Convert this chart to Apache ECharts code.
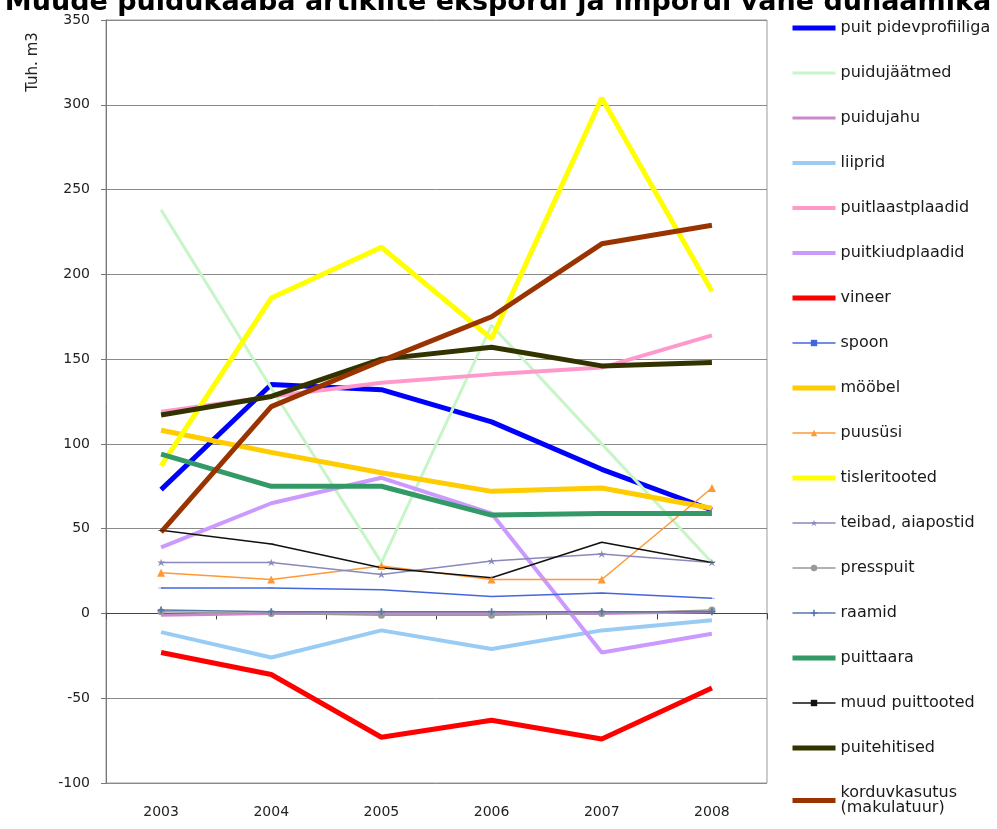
<!DOCTYPE html>
<html>
<head>
<meta charset="utf-8">
<script src="https://cdn.jsdelivr.net/npm/echarts@6/dist/echarts.min.js"></script>
<style>
html,body{margin:0;padding:0;background:#fff;}
#chart{width:997px;height:829px;}
</style>
</head>
<body>
<div id="chart"></div>
<script>
const titleText = 'Muude puidukaaba artiklite ekspordi ja impordi vahe dünaamika';
const unitLabel = 'Tuh. m3';
const years = ['2003', '2004', '2005', '2006', '2007', '2008'];

const puitPidevprofiiliga = [73, 135, 132, 113, 85, 61];
const puidujaatmed = [238, 133, 30, 170, 100, 30];
const puidujahu = [-1, 0, 0, 0, 0, 1];
const liiprid = [-11, -26, -10, -21, -10, -4];
const puitlaastplaadid = [119, 128, 136, 141, 145, 164];
const puitkiudplaadid = [39, 65, 80, 59, -23, -12];
const vineer = [-23, -36, -73, -63, -74, -44];
const spoon = [15, 15, 14, 10, 12, 9];
const moobel = [108, 95, 83, 72, 74, 62];
const puususi = [24, 20, 28, 20, 20, 74];
const tisleritooted = [87, 186, 216, 162, 304, 190];
const teibad = [30, 30, 23, 31, 35, 30];
const presspuit = [1, 0, -1, -1, 0, 2];
const raamid = [2, 1, 1, 1, 1, 1];
const puittaara = [94, 75, 75, 58, 59, 59];
const muudPuittooted = [49, 41, 27, 21, 42, 30];
const puitehitised = [117, 128, 150, 157, 146, 148];
const korduvkasutus = [48, 122, 149, 175, 218, 229];

const yMin = -100, yMax = 350, yStep = 50;

const FONT = '"DejaVu Sans", sans-serif';
const DASH = 'path://M0,0H8V2H0Z';
const PLUS = 'path://M3,0H5V3H8V5H5V8H3V5H0V3H3Z';
const STAR = 'path://M4,0L5,3L8,2.5L5.5,4.5L7,7.5L4,5.5L1,7.5L2.5,4.5L0,2.5L3,3Z';

const seriesDefs = [
  {name: 'puit pidevprofiiliga', data: puitPidevprofiiliga, color: '#0000ff', width: 5},
  {name: 'puidujäätmed', data: puidujaatmed, color: '#c8f5c8', width: 3},
  {name: 'puidujahu', data: puidujahu, color: '#cc88cc', width: 3},
  {name: 'liiprid', data: liiprid, color: '#99ccf5', width: 4},
  {name: 'puitlaastplaadid', data: puitlaastplaadid, color: '#ff99cc', width: 4},
  {name: 'puitkiudplaadid', data: puitkiudplaadid, color: '#cc99ff', width: 4},
  {name: 'vineer', data: vineer, color: '#ff0000', width: 5},
  {name: 'spoon', data: spoon, color: '#4466dd', width: 1.5, symbol: DASH, size: [6, 2]},
  {name: 'mööbel', data: moobel, color: '#ffcc00', width: 5},
  {name: 'puusüsi', data: puususi, color: '#ff9933', width: 1.5, symbol: 'triangle', size: 8},
  {name: 'tisleritooted', data: tisleritooted, color: '#ffff00', width: 5},
  {name: 'teibad, aiapostid', data: teibad, color: '#8888bb', width: 1.5, symbol: STAR, size: 8},
  {name: 'presspuit', data: presspuit, color: '#999999', width: 1.5, symbol: 'circle', size: 7},
  {name: 'raamid', data: raamid, color: '#5577aa', width: 1.5, symbol: PLUS, size: 7},
  {name: 'puittaara', data: puittaara, color: '#339966', width: 5},
  {name: 'muud puittooted', data: muudPuittooted, color: '#111111', width: 1.5, symbol: DASH, size: [6, 2]},
  {name: 'puitehitised', data: puitehitised, color: '#333300', width: 5},
  {name: 'korduvkasutus\n(makulatuur)', data: korduvkasutus, color: '#993300', width: 5}
];

const chart = echarts.init(document.getElementById('chart'), null, {renderer: 'canvas'});

const series = seriesDefs.map(d => ({
  type: 'line',
  name: d.name,
  data: d.data,
  xAxisIndex: 0,
  yAxisIndex: 0,
  symbol: d.symbol || 'none',
  symbolSize: d.size || 6,
  symbolKeepAspect: true,
  showSymbol: !!d.symbol,
  color: d.color,
  lineStyle: {color: d.color, width: d.width},
  itemStyle: {color: d.color},
  emphasis: {disabled: true},
  animation: false
}));

const legendData = seriesDefs.map(d => ({
  name: d.name,
  itemStyle: d.symbol ? {color: d.color} : {color: d.color, opacity: 0},
  lineStyle: {color: d.color, width: Math.max(d.width, 1.5), opacity: 1}
}));

chart.setOption({
  animation: false,
  backgroundColor: '#ffffff',
  graphic: [
    {type: 'text', x: 498, y: 3, style: {text: titleText, font: 'bold 27px ' + FONT, fill: '#000', align: 'center', verticalAlign: 'middle'}},
    {type: 'text', x: 33, y: 62, rotation: Math.PI / 2, style: {text: unitLabel, font: '15px ' + FONT, fill: '#222', align: 'center', verticalAlign: 'middle'}}
  ],
  grid: {left: 106, right: 230, top: 20, bottom: 46, show: true, borderColor: '#9a9a9a', borderWidth: 1},
  legend: {
    orient: 'vertical',
    left: 790,
    top: 20,
    padding: 0,
    itemWidth: 43,
    itemHeight: 8,
    itemGap: 29,
    symbolKeepAspect: true,
    data: legendData,
    textStyle: {fontFamily: FONT, fontSize: 16, color: '#1a1a1a', lineHeight: 15},
    selectedMode: false
  },
  xAxis: [
    {
      type: 'category', data: years, position: 'bottom', boundaryGap: true,
      axisLine: {show: false, onZero: false},
      axisTick: {show: false},
      axisLabel: {fontFamily: FONT, fontSize: 14, color: '#222', margin: 22},
      splitLine: {show: false}
    },
    {
      type: 'category', data: years, position: 'bottom', boundaryGap: true,
      axisLine: {show: true, onZero: true, lineStyle: {color: '#444', width: 1}},
      axisTick: {show: true, length: 6, lineStyle: {color: '#444'}},
      axisLabel: {show: false},
      splitLine: {show: false}
    }
  ],
  yAxis: {
    type: 'value', min: yMin, max: yMax, interval: yStep,
    axisLine: {show: true, lineStyle: {color: '#777', width: 1}},
    axisTick: {show: true, length: 5, lineStyle: {color: '#777'}},
    axisLabel: {fontFamily: FONT, fontSize: 14, color: '#222', margin: 16},
    splitLine: {show: true, lineStyle: {color: '#8a8a8a', width: 1}}
  },
  series: series
});
</script>
</body>
</html>
